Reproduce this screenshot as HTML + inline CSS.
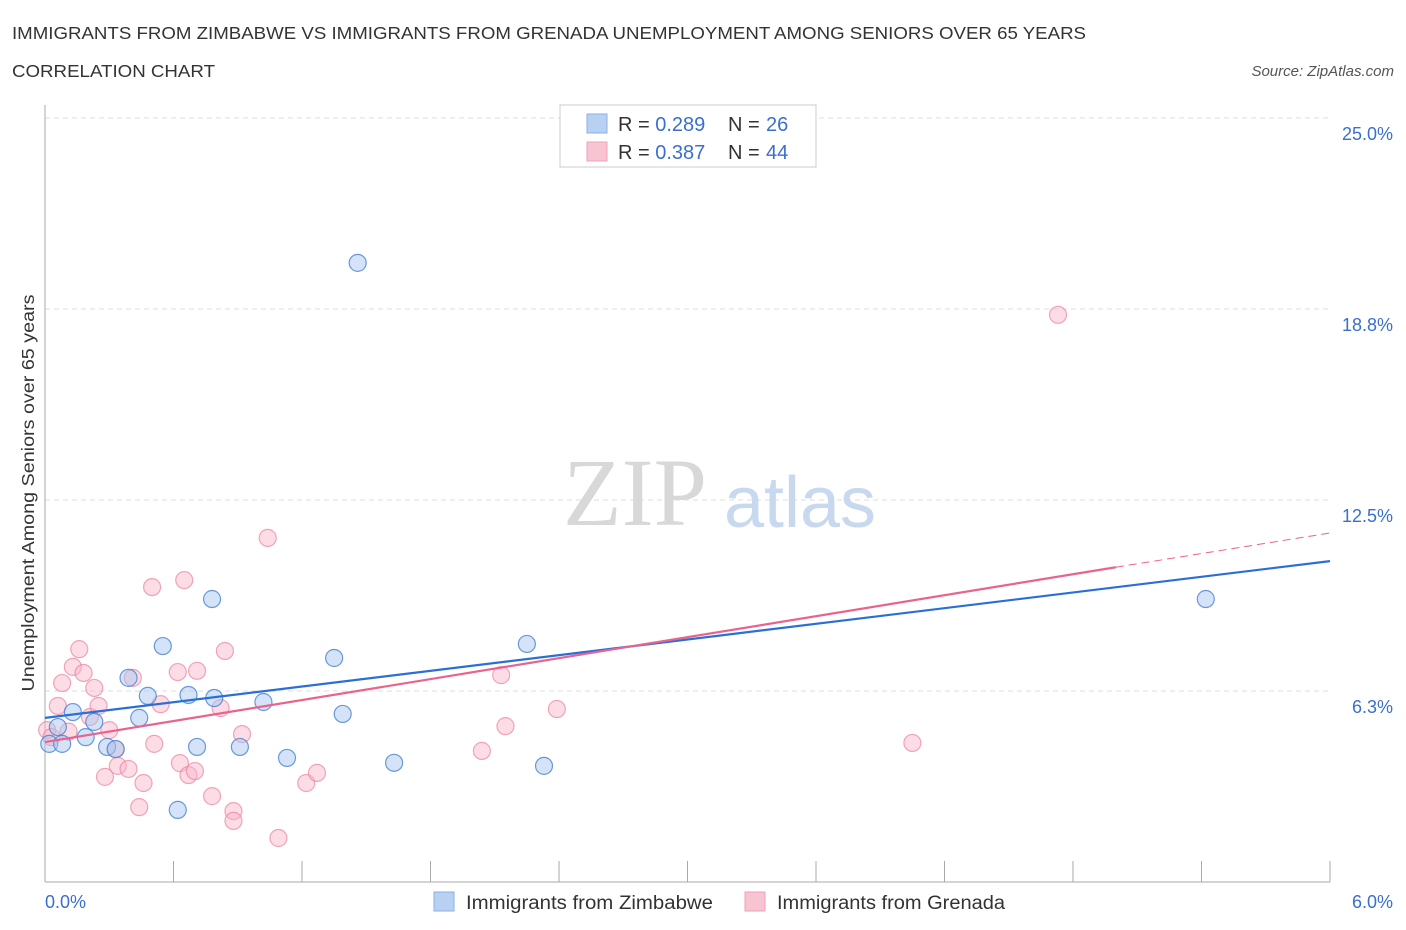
<!DOCTYPE html>
<html><head><meta charset="utf-8"><style>
body{margin:0;background:#fff;font-family:"Liberation Sans",sans-serif;}
svg{display:block}
</style></head><body>
<svg id="chart" width="1406" height="930">
<text x="12" y="39" font-size="17.5" fill="#333" textLength="1074" lengthAdjust="spacingAndGlyphs">IMMIGRANTS FROM ZIMBABWE VS IMMIGRANTS FROM GRENADA UNEMPLOYMENT AMONG SENIORS OVER 65 YEARS</text>
<text x="12" y="77" font-size="17.5" fill="#333" textLength="203" lengthAdjust="spacingAndGlyphs">CORRELATION CHART</text>
<text x="1394" y="76" font-size="15" fill="#555" font-style="italic" text-anchor="end">Source: ZipAtlas.com</text>
<g id="grid"></g>
<text x="635" y="525" font-size="96" fill="#d8d8d8" text-anchor="middle" font-family="Liberation Serif,serif">ZIP</text>
<text x="800" y="527" font-size="72" fill="#c8d8ee" text-anchor="middle">atlas</text>
<line x1="45" y1="105" x2="45" y2="882" stroke="#aaa"/>
<line x1="45" y1="882" x2="1330" y2="882" stroke="#aaa"/>
<g id="xticks"></g>
<g id="ylabels"></g>
<text x="45" y="908" font-size="18" fill="#3a6fd0">0.0%</text>
<text x="1393" y="908" font-size="18" fill="#3a6fd0" text-anchor="end">6.0%</text>
<text transform="translate(34,493) rotate(-90)" font-size="17.5" fill="#333" text-anchor="middle" textLength="397" lengthAdjust="spacingAndGlyphs">Unemployment Among Seniors over 65 years</text>
<g id="points"></g>
<g id="lines"></g>
<g>
<rect x="560" y="105" width="256" height="62" fill="#fff" stroke="#ccc"/>
<rect x="587" y="114" width="20" height="19" fill="#b8d0f2" stroke="#8ab0e6"/>
<rect x="587" y="142" width="20" height="19" fill="#f8c4d2" stroke="#eea0b8"/>
<text x="618" y="131" font-size="20" fill="#333">R = <tspan fill="#3a6fd0">0.289</tspan><tspan x="728">N = </tspan><tspan x="766" fill="#3a6fd0">26</tspan></text>
<text x="618" y="159" font-size="20" fill="#333">R = <tspan fill="#3a6fd0">0.387</tspan><tspan x="728">N = </tspan><tspan x="766" fill="#3a6fd0">44</tspan></text>
</g>
<g>
<rect x="434" y="892" width="20" height="19" fill="#b8d0f2" stroke="#8ab0e6"/>
<text x="466" y="909" font-size="19" fill="#333" textLength="247" lengthAdjust="spacingAndGlyphs">Immigrants from Zimbabwe</text>
<rect x="745" y="892" width="20" height="19" fill="#f8c4d2" stroke="#eea0b8"/>
<text x="777" y="909" font-size="19" fill="#333" textLength="228" lengthAdjust="spacingAndGlyphs">Immigrants from Grenada</text>
</g>
</svg>
<script>
const yTicks=[6.25,12.5,18.75,25];
const yTickLabels=["6.3%","12.5%","18.8%","25.0%"];
const xTicks=[0,0.6,1.2,1.8,2.4,3.0,3.6,4.2,4.8,5.4,6.0];
const zimX=[0.02,0.08,0.06,0.13,0.19,0.23,0.29,0.33,0.39,0.44,0.48,0.55,0.62,0.67,0.71,0.78,0.79,0.91,1.02,1.13,1.35,1.39,1.46,1.63,2.25,2.33];
const zimY=[4.52,4.52,5.07,5.56,4.74,5.24,4.42,4.35,6.68,5.37,6.09,7.72,2.36,6.12,4.42,9.26,6.02,4.42,5.89,4.06,7.33,5.50,20.26,3.90,7.79,3.80];
const zimX2=[5.42];const zimY2=[9.26];
const grenX=[0.01,0.03,0.06,0.08,0.11,0.13,0.16,0.18,0.21,0.23,0.25,0.28,0.30,0.33,0.34,0.39,0.41,0.44,0.46,0.50,0.51,0.54,0.62,0.63,0.65,0.67,0.70,0.71,0.78,0.82,0.84,0.88,0.88,0.92,1.04,1.09,1.22,1.27,2.04,2.13,2.15,2.39,4.05,4.73];
const grenY=[4.97,4.74,5.76,6.51,4.92,7.04,7.62,6.84,5.40,6.35,5.76,3.44,4.97,4.35,3.80,3.70,6.68,2.45,3.24,9.65,4.52,5.82,6.87,3.89,9.88,3.50,3.63,6.91,2.81,5.69,7.56,2.32,2.00,4.84,11.26,1.44,3.24,3.57,4.29,6.77,5.10,5.66,4.55,18.56];
const blueLine=[0,5.37,6,10.5];
const pinkLine=[0,4.58,5.0,10.3,6,11.42];
const NS="http://www.w3.org/2000/svg";
function xs(v){return 45+v*(1285/6);}
function ys(v){return 882-v*(764/25);}
function mk(tag,attrs,parent){const e=document.createElementNS(NS,tag);for(const k in attrs)e.setAttribute(k,attrs[k]);parent.appendChild(e);return e;}
const grid=document.getElementById('grid'),yl=document.getElementById('ylabels'),xt=document.getElementById('xticks'),pts=document.getElementById('points'),ln=document.getElementById('lines');
yTicks.forEach((t,i)=>{
  const g=mk('line',{x1:45,x2:1330,y1:ys(t),y2:ys(t),stroke:'#ddd','stroke-dasharray':'5,4'},grid);
  
  
  const tx=mk('text',{x:1393,y:ys(t)+22,'font-size':18,fill:'#3a6fd0','text-anchor':'end'},yl);
  tx.textContent=yTickLabels[i];
  
  
});
xTicks.forEach(t=>{
  const l=mk('line',{x1:xs(t),x2:xs(t),y1:882,y2:t===0?882:861,stroke:'#aaa'},xt);
  
  
});
function dot(x,y,fill,stroke,name){
  const c=mk('circle',{cx:xs(x),cy:ys(y),r:8.5,fill:fill,stroke:stroke,'stroke-width':1.2},pts);
  
  
}
grenX.forEach((x,i)=>dot(x,grenY[i],'rgba(248,180,200,0.45)','rgba(235,130,160,0.7)','grenada-point'));
zimX.forEach((x,i)=>dot(x,zimY[i],'rgba(170,200,240,0.5)','rgba(70,130,210,0.8)','zimbabwe-point'));
zimX2.forEach((x,i)=>dot(x,zimY2[i],'rgba(170,200,240,0.5)','rgba(70,130,210,0.8)','zimbabwe-point'));
let l1=mk('line',{x1:xs(blueLine[0]),y1:ys(blueLine[1]),x2:xs(blueLine[2]),y2:ys(blueLine[3]),stroke:'#2a6fd6','stroke-width':2.2},ln);


let l2=mk('line',{x1:xs(pinkLine[0]),y1:ys(pinkLine[1]),x2:xs(pinkLine[2]),y2:ys(pinkLine[3]),stroke:'#e8638e','stroke-width':2.2},ln);


let l3=mk('line',{x1:xs(pinkLine[2]),y1:ys(pinkLine[3]),x2:xs(pinkLine[4]),y2:ys(pinkLine[5]),stroke:'#e8638e','stroke-width':1,'stroke-dasharray':'8,5'},ln);


</script>
</body></html>
